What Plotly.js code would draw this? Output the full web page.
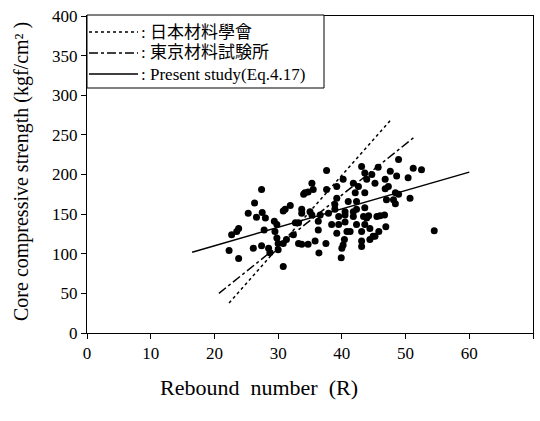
<!DOCTYPE html>
<html>
<head>
<meta charset="utf-8">
<script src="https://cdn.plot.ly/plotly-3.0.1.min.js"></script>
<style>html,body{margin:0;padding:0;background:#fff;}#chart{width:540px;height:421px;}</style>
</head>
<body>
<div id="chart"></div>
<script>
// Scatter data: rebound number R vs core compressive strength (kgf/cm²)
const reboundR = [25.3,26.6,28.0,29.4,29.8,30.8,32.7,23.8,22.7,23.5,27.8,29.5,29.8,30.0,30.8,31.3,32.4,27.4,26.1,22.3,23.8,28.5,28.7,30.0,30.8,33.2,27.4,26.3,31.1,31.9,37.6,35.3,35.5,34.7,34.0,37.6,40.2,43.1,43.6,43.9,41.8,42.6,44.7,45.2,42.1,43.6,39.2,38.9,41.0,42.3,38.9,40.5,42.3,43.6,33.7,35.0,44.2,41.8,33.7,35.3,36.6,37.9,39.5,40.5,41.8,43.4,43.9,45.5,33.2,36.3,38.4,39.5,40.5,42.3,43.6,44.4,36.3,39.2,40.8,41.3,43.1,44.9,44.4,33.7,34.7,35.8,37.5,40.4,40.2,40.0,43.1,43.1,36.4,39.9,48.9,45.7,51.2,52.5,47.6,48.6,50.4,46.8,47.3,46.8,48.4,48.9,47.0,48.1,50.7,48.4,46.0,46.7,46.9,45.8,45.2,54.5,39.2,34.2,27.5];
const strength = [151,146,145,141,137,154,139,132,124,128,130,128,120,113,113,118,124,110,107,104,94,107,101,105,84,113,181,164,156,161,205,189,181,178,175,181,194,210,202,194,189,185,200,189,177,177,170,162,166,166,156,153,156,158,156,153,148,147,151,149,149,151,147,149,153,147,145,147,139,141,137,137,140,137,137,132,130,126,128,128,128,122,118,112,112,116,113,118,111,107,116,109,101,95,219,209,208,206,204,198,196,194,185,182,177,175,168,168,170,163,148,149,134,128,122,129,185,177,152];

// Regression lines (endpoints)
const jsmsR = [22.3, 47.6];      // 日本材料學會
const jsmsS = [38, 268];
const tokyoR = [20.7, 51.5];     // 東京材料試験所
const tokyoS = [50, 248];
const presentR = [16.5, 60];     // Present study (Eq.4.17)
const presentS = [102, 203];

const legendNames = ['日本材料學會', '東京材料試験所', 'Present study(Eq.4.17)'];
const legendDash = ['dot', 'dashdot', 'solid'];
const xTicks = [0,10,20,30,40,50,60,70];
const yTicks = [0,50,100,150,200,250,300,350,400];

const serif = 'Liberation Serif, Times New Roman, Noto Sans CJK JP, serif';

// plot area in pixels: left 87, right 533, top 16, bottom 333
const PL = 87, PW = 446, PT = 16, PH = 317;
const px = v => (v - PL) / PW;
const py = v => 1 - (v - PT) / PH;

const traces = [
  {x: jsmsR, y: jsmsS, mode: 'lines', name: legendNames[0], line: {color: '#000', width: 1.5, dash: legendDash[0]}},
  {x: tokyoR, y: tokyoS, mode: 'lines', name: legendNames[1], line: {color: '#000', width: 1.5, dash: legendDash[1]}},
  {x: presentR, y: presentS, mode: 'lines', name: legendNames[2], line: {color: '#000', width: 1.5, dash: legendDash[2]}},
  {x: reboundR, y: strength, mode: 'markers', name: 'data', marker: {color: '#000', size: 7}}
];

const rowY = [32, 53, 74];
const shapes = [
  {type: 'rect', xref: 'paper', yref: 'paper', x0: px(87), x1: px(324), y0: py(88), y1: py(15),
   line: {color: '#000', width: 1}, fillcolor: '#fff', layer: 'above'}
];
const annotations = [];
legendNames.forEach((n, i) => {
  shapes.push({type: 'line', xref: 'paper', yref: 'paper', x0: px(89), x1: px(138), y0: py(rowY[i]), y1: py(rowY[i]),
               line: {color: '#000', width: 1.5, dash: legendDash[i]}, layer: 'above'});
  annotations.push({xref: 'paper', yref: 'paper', x: px(139), y: py(rowY[i]), xanchor: 'left', yanchor: 'middle',
                    showarrow: false, text: ': ' + n, font: {family: serif, size: 17, color: '#000'}});
});
annotations.push({xref: 'paper', yref: 'paper', x: px(259), y: py(387), xanchor: 'center', yanchor: 'middle',
                  showarrow: false, text: 'Rebound  number  (R)', font: {family: serif, size: 22, color: '#000'}});
annotations.push({xref: 'paper', yref: 'paper', x: px(21), y: py(172), xanchor: 'center', yanchor: 'middle',
                  textangle: -90, showarrow: false, text: 'Core compressive strength (kgf/cm² )',
                  font: {family: serif, size: 20, color: '#000'}});

const layout = {
  width: 540, height: 421,
  margin: {l: PL, r: 540 - PL - PW, t: PT, b: 421 - PT - PH},
  paper_bgcolor: '#fff', plot_bgcolor: '#fff',
  font: {family: serif, color: '#000', size: 16},
  showlegend: false,
  shapes: shapes,
  annotations: annotations,
  xaxis: {range: [0, 70], tickvals: xTicks, ticktext: xTicks.map(String), showgrid: false, zeroline: false,
          showline: true, linecolor: '#000', linewidth: 1, mirror: true, ticks: 'outside', ticklen: 5,
          tickcolor: '#000', tickfont: {family: serif, size: 17}},
  yaxis: {range: [0, 400], tickvals: yTicks, ticktext: yTicks.map(String), showgrid: false, zeroline: false,
          showline: true, linecolor: '#000', linewidth: 1, mirror: true, ticks: 'outside', ticklen: 5,
          tickcolor: '#000', tickfont: {family: serif, size: 17}}
};

Plotly.newPlot('chart', traces, layout, {displayModeBar: false, staticPlot: true});
</script>
</body>
</html>
